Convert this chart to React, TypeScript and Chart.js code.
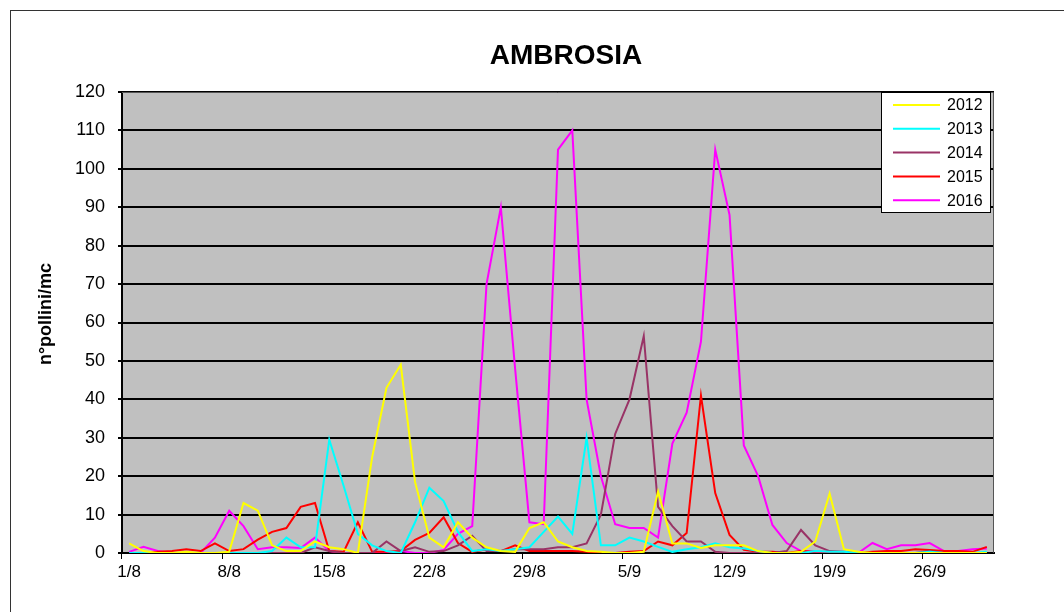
import React, { useEffect, useRef } from "react";
import { Chart, registerables } from "chart.js";

Chart.register(...registerables);

// 1/8 .. 30/9
const DAYS: string[] = [
  "1/8","2/8","3/8","4/8","5/8","6/8","7/8","8/8","9/8","10/8","11/8","12/8","13/8","14/8","15/8","16/8",
  "17/8","18/8","19/8","20/8","21/8","22/8","23/8","24/8","25/8","26/8","27/8","28/8","29/8","30/8","31/8",
  "1/9","2/9","3/9","4/9","5/9","6/9","7/9","8/9","9/9","10/9","11/9","12/9","13/9","14/9","15/9",
  "16/9","17/9","18/9","19/9","20/9","21/9","22/9","23/9","24/9","25/9","26/9","27/9","28/9","29/9","30/9",
];

const Y2012: number[] = [
  2.5, 0.5, 0, 0, 0.3, 0, 0, 0.3, 13, 11, 2, 0.5, 0.5, 3, 1.5, 1, 0, 25, 43, 49, 18.5,
  4, 1.5, 8, 4, 1.5, 0.5, 0.3, 6.5, 8, 3, 1.5, 0.5, 0.3, 0, 0, 0.3, 16, 2.5, 2.5, 1.3,
  2, 2, 2, 0.5, 0, 0, 0.3, 3, 15.5, 1, 0.3, 0, 0, 0, 0, 0, 0, 0, 0, 0,
];
const Y2013: number[] = [
  0, 0, 0, 0, 0, 0, 0, 0, 0, 0, 0.5, 4, 1.5, 1.5, 29.5, 17.5, 5, 2, 0.5, 0, 8,
  17, 13.5, 5.5, 0.5, 1, 0.5, 1, 1.5, 5.5, 9.5, 5, 30, 2, 2, 4, 3, 1.6, 0.3, 1, 1.5,
  2.5, 1.5, 1.2, 0.5, 0, 0, 0, 0.5, 0.3, 0.3, 0, 0, 0, 0, 0, 0.3, 0, 0, 0, 0.3,
];
const Y2014: number[] = [
  0, 0, 0, 0, 0, 0, 0, 0, 0, 0, 0, 0, 0, 1.5, 0.5, 0, 0, 0, 3, 0.5, 1.5,
  0.3, 0.5, 2, 4.5, 0.5, 0.5, 1, 1, 1, 1.5, 1.5, 2.5, 10, 31, 40, 56.5, 12, 7, 3, 3,
  0.3, 0, 0, 0, 0, 0.5, 6, 2, 0.5, 0.3, 0, 0, 0, 0, 0, 0.5, 0, 0, 0, 0,
];
const Y2015: number[] = [
  0, 0, 0.3, 0.5, 1, 0.5, 2.5, 0.5, 1, 3.5, 5.5, 6.5, 12, 13, 0.5, 0.3, 8, 0.3, 0.3, 0.5, 3.4,
  5.2, 9.3, 2.6, 0.3, 1, 0.5, 2, 0.5, 0.5, 0.5, 0.5, 0.3, 0, 0, 0.3, 0.5, 3, 2, 5.2, 41,
  15.6, 4.7, 0.8, 0.3, 0.3, 0, 0.5, 0.3, 0.3, 0, 0, 0.3, 0.5, 0.5, 1, 0.8, 0.5, 0.5, 0.3, 1.6,
];
const Y2016: number[] = [
  0.3, 1.6, 0.5, 0, 0, 0, 4, 11, 7, 1, 1.5, 1.5, 1.3, 4, 0.5, 0, 0, 0, 0, 0.5, 0,
  0, 0.8, 5, 7, 70, 90, 48, 8, 7.5, 105, 110, 40, 20, 7.5, 6.5, 6.5, 4, 28.5, 36.5, 55,
  105, 88, 28, 20, 7.3, 2.6, 0.5, 0.3, 0, 0, 0, 2.6, 1, 2, 2, 2.6, 0.5, 0.5, 1, 1.2,
];

const SERIES_LABELS: string[] = ["2012", "2013", "2014", "2015", "2016"];
const SERIES_COLORS: string[] = ["#FFFF00", "#00FFFF", "#993366", "#FF0000", "#FF00FF"];
const SERIES_VALUES: number[][] = [Y2012, Y2013, Y2014, Y2015, Y2016];

const TITLE = "AMBROSIA";
const Y_TITLE = "n°pollini/mc";
const FONT = "'Liberation Sans', Arial, sans-serif";

const decorPlugin = {
  id: "decor",
  beforeDraw(chart: any) {
    const { ctx, chartArea } = chart;
    ctx.save();
    ctx.fillStyle = "#ffffff";
    ctx.fillRect(0, 0, chart.width, chart.height);
    ctx.fillStyle = "#C0C0C0";
    ctx.fillRect(chartArea.left, chartArea.top, chartArea.right - chartArea.left, chartArea.bottom - chartArea.top);
    // outer frame
    ctx.strokeStyle = "#333";
    ctx.lineWidth = 1;
    ctx.strokeRect(10.5, 10.5, 1200, 800);
    ctx.restore();
  },
  afterDraw(chart: any) {
    const { ctx, chartArea } = chart;
    ctx.save();
    // plot border
    ctx.strokeStyle = "#555";
    ctx.lineWidth = 1;
    ctx.beginPath();
    ctx.moveTo(chartArea.left, chartArea.top + 0.5);
    ctx.lineTo(chartArea.right - 0.5, chartArea.top + 0.5);
    ctx.lineTo(chartArea.right - 0.5, chartArea.bottom);
    ctx.stroke();
    // title
    ctx.fillStyle = "#000";
    ctx.font = `bold 28px ${FONT}`;
    ctx.textAlign = "center";
    ctx.textBaseline = "middle";
    ctx.fillText(TITLE, 566, 56);
    // y title
    ctx.save();
    ctx.translate(46, 314);
    ctx.rotate(-Math.PI / 2);
    ctx.font = `bold 18px ${FONT}`;
    ctx.fillText(Y_TITLE, 0, 0);
    ctx.restore();
    // legend
    const lx = 881.5, ly = 92.5, lw = 109, lh = 120;
    ctx.fillStyle = "#fff";
    ctx.fillRect(lx, ly, lw, lh);
    ctx.strokeStyle = "#000";
    ctx.lineWidth = 1;
    ctx.strokeRect(lx, ly, lw, lh);
    ctx.font = `16px ${FONT}`;
    ctx.textAlign = "left";
    ctx.textBaseline = "middle";
    chart.data.datasets.forEach((ds: any, i: number) => {
      const y = 105 + i * 23.8;
      ctx.strokeStyle = ds.borderColor;
      ctx.lineWidth = 2;
      ctx.beginPath();
      ctx.moveTo(893, y);
      ctx.lineTo(940, y);
      ctx.stroke();
      ctx.fillStyle = "#000";
      ctx.fillText(ds.label, 947, y + 1);
    });
    ctx.restore();
  },
};

export default function App() {
  const ref = useRef<HTMLCanvasElement | null>(null);
  useEffect(() => {
    if (!ref.current) return;
    const chart = new Chart(ref.current, {
      type: "line",
      data: {
        labels: DAYS,
        datasets: SERIES_LABELS.map((label, i) => ({
          label,
          data: SERIES_VALUES[i],
          borderColor: SERIES_COLORS[i],
          backgroundColor: SERIES_COLORS[i],
          borderWidth: 2,
          pointRadius: 0,
          tension: 0,
          fill: false,
        })),
      },
      options: {
        animation: false,
        responsive: false,
        layout: { padding: { left: 33, right: 70, top: 92, bottom: 0 } },
        plugins: {
          legend: { display: false },
          title: { display: false },
          tooltip: { enabled: false },
        },
        scales: {
          x: {
            type: "category",
            offset: true,
            grid: {
              offset: true,
              drawOnChartArea: false,
              drawTicks: true,
              tickLength: 6,
              lineWidth: 1,
              color: (c: any) => (typeof c.index === "number" && c.index % 7 === 0 ? "#000" : "rgba(0,0,0,0)"),
            },
            border: { display: true, color: "#000", width: 2 },
            ticks: {
              autoSkip: false,
              maxRotation: 0,
              minRotation: 0,
              color: "#000",
              padding: 3,
              font: { family: FONT, size: 17 },
              callback: (_v: any, i: number) => (i % 7 === 0 ? DAYS[i] : ""),
            },
            afterFit: (s: any) => {
              s.height = 59;
            },
          },
          y: {
            min: 0,
            max: 120,
            ticks: {
              stepSize: 10,
              color: "#000",
              padding: 13,
              font: { family: FONT, size: 18 },
            },
            grid: { color: "#000", lineWidth: 2, tickLength: 4, drawTicks: true },
            border: { display: true, color: "#000", width: 2 },
            afterFit: (s: any) => {
              s.width = 89;
            },
          },
        },
      },
      plugins: [decorPlugin],
    });
    return () => chart.destroy();
  }, []);
  return (
    <div style={{ position: "fixed", left: 0, top: 0, width: 1064, height: 612, background: "#fff" }}>
      <canvas ref={ref} width={1064} height={612} style={{ width: 1064, height: 612, display: "block" }} />
    </div>
  );
}
